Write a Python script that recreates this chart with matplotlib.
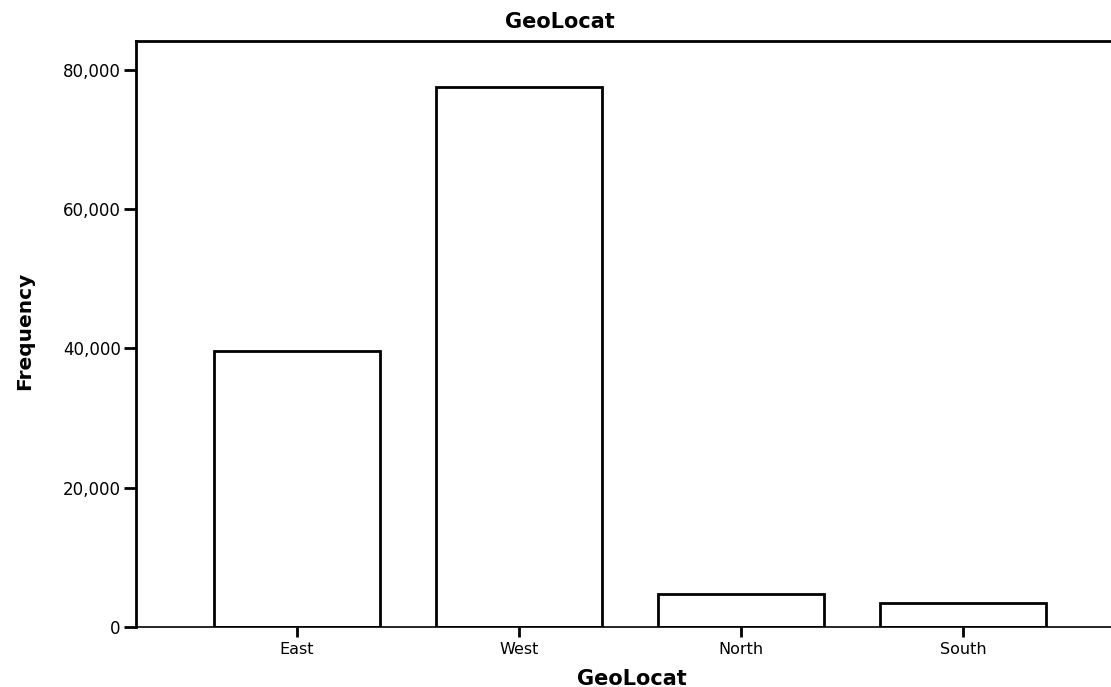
import matplotlib
matplotlib.use('Agg')
import matplotlib.pyplot as plt
from matplotlib.ticker import FuncFormatter

# GeoLocat frequencies
categories = ['East', 'West', 'North', 'South']
counts = [39600, 77500, 4800, 3400]
y_ticks = [0, 20000, 40000, 60000, 80000]

fig = plt.figure(figsize=(11.11, 6.87), dpi=100)
ax = fig.add_axes([136 / 1111, 1 - 627 / 687, 1 - 136 / 1111, (627 - 41) / 687])

x = range(len(categories))
ax.bar(x, counts, width=0.75, color='white', edgecolor='black', linewidth=2.0)

ax.set_xlim(-0.725, 3.667)
ax.set_ylim(0, 84165)
ax.set_xticks(list(x))
ax.set_xticklabels(categories)
ax.set_yticks(y_ticks)
ax.yaxis.set_major_formatter(FuncFormatter(lambda v, p: '{:,.0f}'.format(v)))

ax.spines['left'].set_linewidth(2.0)
ax.spines['top'].set_linewidth(2.0)
ax.spines['bottom'].set_linewidth(1.2)
ax.spines['right'].set_visible(False)

ax.tick_params(axis='y', length=9, width=2.0, pad=2, labelsize=12)
ax.tick_params(axis='x', length=7, width=2.0, pad=4, labelsize=11.5)

fig.text(560 / 1111, 1 - 22 / 687, 'GeoLocat', ha='center', va='center',
         fontsize=15, fontweight='bold')
fig.text(632 / 1111, 1 - 679 / 687, 'GeoLocat', ha='center', va='center',
         fontsize=15, fontweight='bold')
fig.text(25 / 1111, 1 - 331 / 687, 'Frequency', ha='center', va='center',
         rotation=90, fontsize=14.5, fontweight='bold')

fig.savefig('out.png', dpi=100)
